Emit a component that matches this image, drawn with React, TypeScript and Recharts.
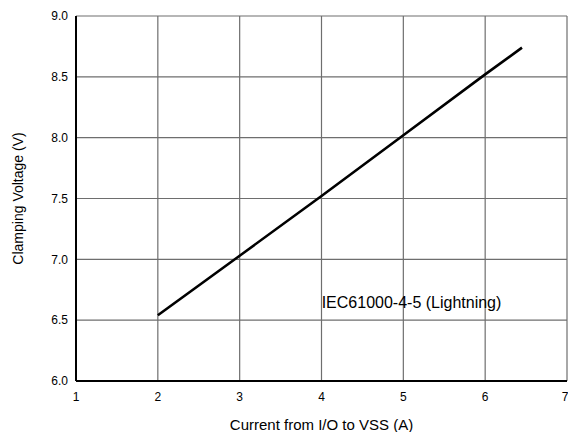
import { CartesianGrid, Label, Line, LineChart, ReferenceDot, XAxis, YAxis } from 'recharts'

const currentA = [2, 3, 4, 5, 6, 6.45]
const clampV = [6.54, 7.03, 7.52, 8.02, 8.52, 8.74]
const xTicks = [1, 2, 3, 4, 5, 6, 7]
const yTicks = [6, 6.5, 7, 7.5, 8, 8.5, 9]
const xMinor = [1.5, 2.5, 3.5, 4.5, 5.5, 6.5]
const yMinor = [6.25, 6.75, 7.25, 7.75, 8.25, 8.75]

const data = currentA.map((x, i) => ({ x, v: clampV[i] }))

const font = 'Liberation Sans, Arial, sans-serif'
const tickStyle = { fontSize: 12, fill: '#000', fontFamily: font }
const noLabel = () => <g />

function YTitle({ viewBox }: any) {
  const cy = viewBox.y + viewBox.height / 2
  return (
    <text x={18} y={cy} transform={`rotate(-90 18 ${cy})`} textAnchor="middle" dominantBaseline="central"
      fontSize={14} fontFamily={font} fill="#000">
      Clamping Voltage (V)
    </text>
  )
}

export default function App() {
  return (
    <div style={{ position: 'absolute', left: 0, top: 0, background: '#fff' }}>
      <LineChart width={568} height={432} data={data} margin={{ top: 16, right: 1, left: 0, bottom: 0 }}>
        <CartesianGrid stroke="#6e6e6e" strokeWidth={1.2} vertical horizontal />
        <XAxis dataKey="x" type="number" domain={[1, 7]} ticks={xTicks} height={51} tickLine={false} tickSize={0}
          tickMargin={11} axisLine={{ stroke: '#000', strokeWidth: 2 }} tick={tickStyle}>
          <Label value="Current from I/O to VSS (A)" position="insideBottom" offset={2}
            style={{ fontSize: 15, fontFamily: font, fill: '#000' }} />
        </XAxis>
        <XAxis xAxisId="top" type="number" dataKey="x" orientation="top" mirror height={0} domain={[1, 7]}
          ticks={xMinor} tickSize={4} tick={noLabel} axisLine={{ stroke: '#000', strokeWidth: 1.5 }}
          tickLine={{ stroke: '#000' }} />
        <XAxis xAxisId="bm" type="number" dataKey="x" orientation="bottom" mirror height={0} domain={[1, 7]}
          ticks={xMinor} tickSize={4} tick={noLabel} axisLine={false} tickLine={{ stroke: '#000' }} />
        <YAxis type="number" domain={[6, 9]} ticks={yTicks} width={76} tickLine={false} tickSize={0} tickMargin={8}
          tickFormatter={(v: number) => v.toFixed(1)} axisLine={{ stroke: '#000', strokeWidth: 2 }} tick={tickStyle}
          label={<YTitle />} />
        <YAxis yAxisId="right" type="number" orientation="right" mirror width={0} domain={[6, 9]} ticks={yMinor}
          tickSize={4} tick={noLabel} axisLine={{ stroke: '#000', strokeWidth: 1.5 }} tickLine={{ stroke: '#000' }} />
        <YAxis yAxisId="lm" type="number" orientation="left" mirror width={0} domain={[6, 9]} ticks={yMinor}
          tickSize={4} tick={noLabel} axisLine={false} tickLine={{ stroke: '#000' }} />
        <Line dataKey="v" stroke="#000" strokeWidth={2.6} dot={false} isAnimationActive={false} />
        <ReferenceDot x={5.1} y={6.65} r={0} stroke="none" fill="none"
          label={{ value: 'IEC61000-4-5 (Lightning)', position: 'center', fontSize: 16, fontFamily: font, fill: '#000' }} />
      </LineChart>
    </div>
  )
}
